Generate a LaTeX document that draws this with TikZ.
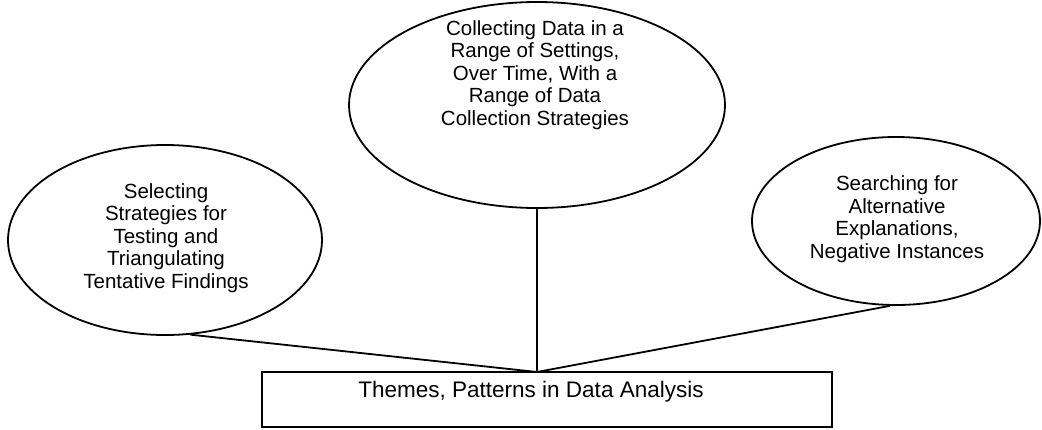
\documentclass[tikz,border=0pt]{standalone}
\usepackage{fontspec}
\setmainfont{Liberation Sans}
\usetikzlibrary{shapes.geometric}
\begin{document}
\begin{tikzpicture}[x=1pt,y=-1pt,
  bubble/.style={draw,ellipse,line width=1.8pt,inner sep=0pt},
  btext/.style={align=center,font=\fontsize{20.5}{22.5}\selectfont,inner sep=0pt},
  boxstyle/.style={draw,line width=1.8pt,inner sep=0pt,minimum width=570pt,minimum height=55pt},
  link/.style={line width=1.8pt}]
\useasboundingbox (0,0) rectangle (1042,429);
% ellipses
\node[bubble,minimum width=314pt,minimum height=190pt] (L) at (165,240) {};
\node[bubble,minimum width=376pt,minimum height=206pt] (T) at (537,105) {};
\node[bubble,minimum width=288pt,minimum height=168pt] (R) at (896,221) {};
% texts
\node[btext] (Lt) at (166,238) {Selecting\\Strategies for\\Testing and\\Triangulating\\Tentative Findings};
\node[btext] (Tt) at (535,75) {Collecting Data in a\\Range of Settings,\\Over Time, With a\\Range of Data\\Collection Strategies};
\node[btext] (Rt) at (897,219) {Searching for\\Alternative\\Explanations,\\Negative Instances};
% box
\node[boxstyle] (B) at (547,399.5) {};
\node[font=\fontsize{22.5}{26}\selectfont,inner sep=0pt] (Bt) at (531,392) {Themes, Patterns in Data Analysis};
\coordinate (apex) at (537,372);
% connectors
\draw[link] (L.-75) -- (apex);
\draw[link] (T.south) -- (apex);
\draw[link] (R.-94) -- (apex);
\end{tikzpicture}
\end{document}
